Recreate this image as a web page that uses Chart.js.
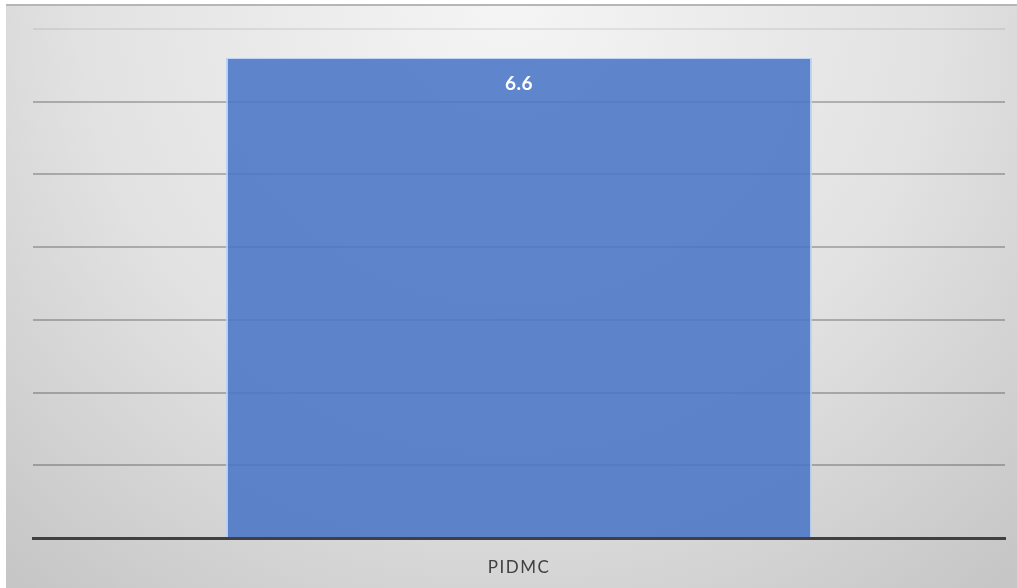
<!DOCTYPE html>
<html>
<head>
<meta charset="utf-8">
<script src="https://cdn.jsdelivr.net/npm/chart.js@4"></script>
<style>
    html, body { margin: 0; padding: 0; background: #ffffff; }
    #wrap { width: 1017px; height: 588px; position: relative; }
</style>
</head>
<body>
<div id="wrap"><canvas id="barChart"></canvas></div>
<script>
const categories = ["PIDMC"];
const values = [6.6];
const yTicks = [0, 1, 2, 3, 4, 5, 6, 7];

// grey panel behind the plot, lighter in the upper middle
const panelBackground = {
    id: "panelBackground",
    beforeDraw(chart) {
        const ctx = chart.ctx;
        const w = chart.width, h = chart.height;
        ctx.save();
        const g = ctx.createRadialGradient(w / 2, 0, 20, w / 2, 0, 760);
        g.addColorStop(0, "#f4f4f4");
        g.addColorStop(0.55, "#e2e2e2");
        g.addColorStop(1, "#c6c6c6");
        ctx.fillStyle = g;
        ctx.fillRect(6, 6, w - 6, h - 6);
        ctx.fillStyle = "#b6b6b6";
        ctx.fillRect(6, 4, w - 6, 2);
        ctx.restore();
        // spaced-out category label
        ctx.letterSpacing = "1.5px";
    },
    afterDraw(chart) {
        chart.ctx.letterSpacing = "0px";
    }
};

// value printed inside the top of each bar
const barValues = {
    id: "barValues",
    afterDatasetsDraw(chart) {
        const ctx = chart.ctx;
        const meta = chart.getDatasetMeta(0);
        ctx.save();
        ctx.letterSpacing = "0.5px";
        ctx.fillStyle = "#ffffff";
        ctx.font = "bold 19px Lato, 'Open Sans', sans-serif";
        ctx.textAlign = "center";
        ctx.textBaseline = "middle";
        meta.data.forEach((bar, i) => {
            ctx.fillText(values[i].toString(), bar.x, bar.y + 26);
        });
        ctx.restore();
    }
};

new Chart(document.getElementById("barChart"), {
    type: "bar",
    data: {
        labels: categories,
        datasets: [{
            data: values,
            backgroundColor: "rgba(74, 118, 198, 0.88)",
            borderColor: "rgba(185, 208, 246, 0.9)",
            borderWidth: { left: 2, right: 2, top: 1, bottom: 0 },
            borderSkipped: "bottom",
            barPercentage: 0.603,
            categoryPercentage: 1
        }]
    },
    options: {
        responsive: true,
        maintainAspectRatio: false,
        animation: false,
        layout: {
            padding: { left: 33, right: 12, top: 29, bottom: 0 }
        },
        plugins: {
            legend: { display: false },
            tooltip: { enabled: false }
        },
        scales: {
            x: {
                grid: { display: false },
                border: { display: true, color: "#404040", width: 3 },
                ticks: {
                    color: "#404040",
                    padding: 11,
                    font: { family: "Lato, 'Open Sans', sans-serif", size: 17 }
                },
                afterFit(scale) {
                    scale.height = 50;
                }
            },
            y: {
                min: yTicks[0],
                max: yTicks[yTicks.length - 1],
                afterBuildTicks(scale) {
                    scale.ticks = yTicks.map(v => ({ value: v }));
                },
                ticks: { display: false },
                border: { display: false },
                grid: {
                    drawTicks: false,
                    lineWidth: 2,
                    color: ctx => ctx.tick && ctx.tick.value === 7 ? "rgba(0,0,0,0.07)" : "rgba(0,0,0,0.24)"
                },
                afterFit(scale) {
                    scale.width = 0;
                }
            }
        }
    },
    plugins: [panelBackground, barValues]
});
</script>
</body>
</html>
